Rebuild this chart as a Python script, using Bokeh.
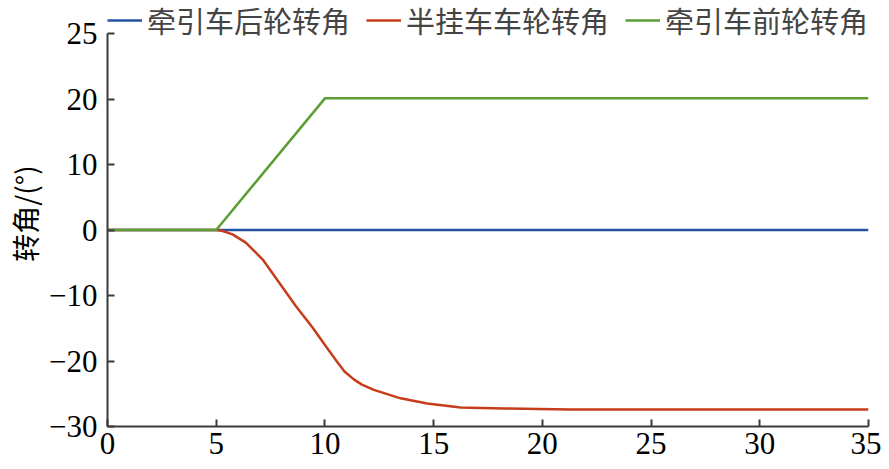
from bokeh.plotting import figure
from bokeh.models import Range1d, FixedTicker, Legend, LegendItem
from bokeh.embed import file_html
from bokeh.resources import INLINE

# ---- data ----
rear_x = [0, 35]
rear_y = [0, 0]

trailer_x = [0, 5.0, 5.3, 5.75, 6.36, 7.13, 7.9, 8.66, 9.43, 10.0, 10.6, 10.9, 11.33, 11.7, 12.25, 13.48, 14.7, 16.24, 18.2, 21.3, 25, 35]
trailer_y = [0, 0, -0.15, -0.66, -1.93, -4.48, -8.04, -11.6, -14.9, -17.55, -20.3, -21.6, -22.8, -23.6, -24.4, -25.7, -26.5, -27.1, -27.25, -27.4, -27.4, -27.4]

front_x = [0, 5, 10, 35]
front_y = [0, 0, 20.1, 20.1]

xticks = [0, 5, 10, 15, 20, 25, 30, 35]
yticks = [-30, -20, -10, 0, 10, 20, 30]
ytick_labels = ["−30", "−20", "−10", "0", "10", "20", "25"]

names = ["牵引车后轮转角", "半挂车车轮转角", "牵引车前轮转角"]
colors = ["#2451a4", "#c63d1c", "#5c9e34"]
ylabel = "转角/(°)"

# ---- layout ----
W, H = 881, 461
FRAME_TOP_PX = 33          # where the top of the y axis sits
BOTTOM_BORDER = 35
frame_h = H - BOTTOM_BORDER
y_lo, y_hi = -30, 30
y_top = y_hi + FRAME_TOP_PX * (y_hi - y_lo) / (frame_h - FRAME_TOP_PX)

p = figure(width=W, height=H, output_backend="svg", toolbar_location=None,
           x_range=Range1d(0, 35), y_range=Range1d(y_lo, y_top),
           min_border_left=107, min_border_right=13, min_border_top=0,
           min_border_bottom=BOTTOM_BORDER)
p.outline_line_color = None
p.grid.visible = False
p.background_fill_color = "white"
p.border_fill_color = "white"

r1 = p.line(rear_x, rear_y, line_color=colors[0], line_width=2.5)
r2 = p.line(trailer_x, trailer_y, line_color=colors[1], line_width=2.5)
r3 = p.line(front_x, front_y, line_color=colors[2], line_width=2.5)

for ax in (p.xaxis[0], p.yaxis[0]):
    ax.axis_line_color = "#3a3a3a"
    ax.axis_line_width = 2
    ax.major_tick_line_color = "#3a3a3a"
    ax.major_tick_line_width = 2
    ax.major_tick_in = 7
    ax.major_tick_out = 0
    ax.minor_tick_line_color = None
    ax.major_label_text_font = "Liberation Serif"
    ax.major_label_text_font_size = "31px"
    ax.major_label_text_color = "black"

p.xaxis.ticker = FixedTicker(ticks=xticks)
p.xaxis.major_label_standoff = 6
p.yaxis.ticker = FixedTicker(ticks=yticks)
p.yaxis.bounds = (y_lo, y_hi)
p.yaxis.major_label_overrides = {t: s for t, s in zip(yticks, ytick_labels)}
p.yaxis.major_label_standoff = 10
p.yaxis.axis_label = ylabel
p.yaxis.axis_label_text_font = "Noto Sans CJK SC"
p.yaxis.axis_label_text_font_size = "28px"
p.yaxis.axis_label_text_font_style = "normal"
p.yaxis.axis_label_text_color = "black"
p.yaxis.axis_label_standoff = 1

legend = Legend(items=[LegendItem(label=n, renderers=[r]) for n, r in zip(names, [r1, r2, r3])],
                orientation="horizontal", location=(0, frame_h - 41),
                padding=0, margin=0, spacing=16, glyph_width=35, label_standoff=5,
                label_text_font="Noto Sans CJK SC", label_text_font_size="29px",
                border_line_color=None, background_fill_alpha=0)
p.add_layout(legend, "center")

open("out.html", "w").write(file_html(p, INLINE))
